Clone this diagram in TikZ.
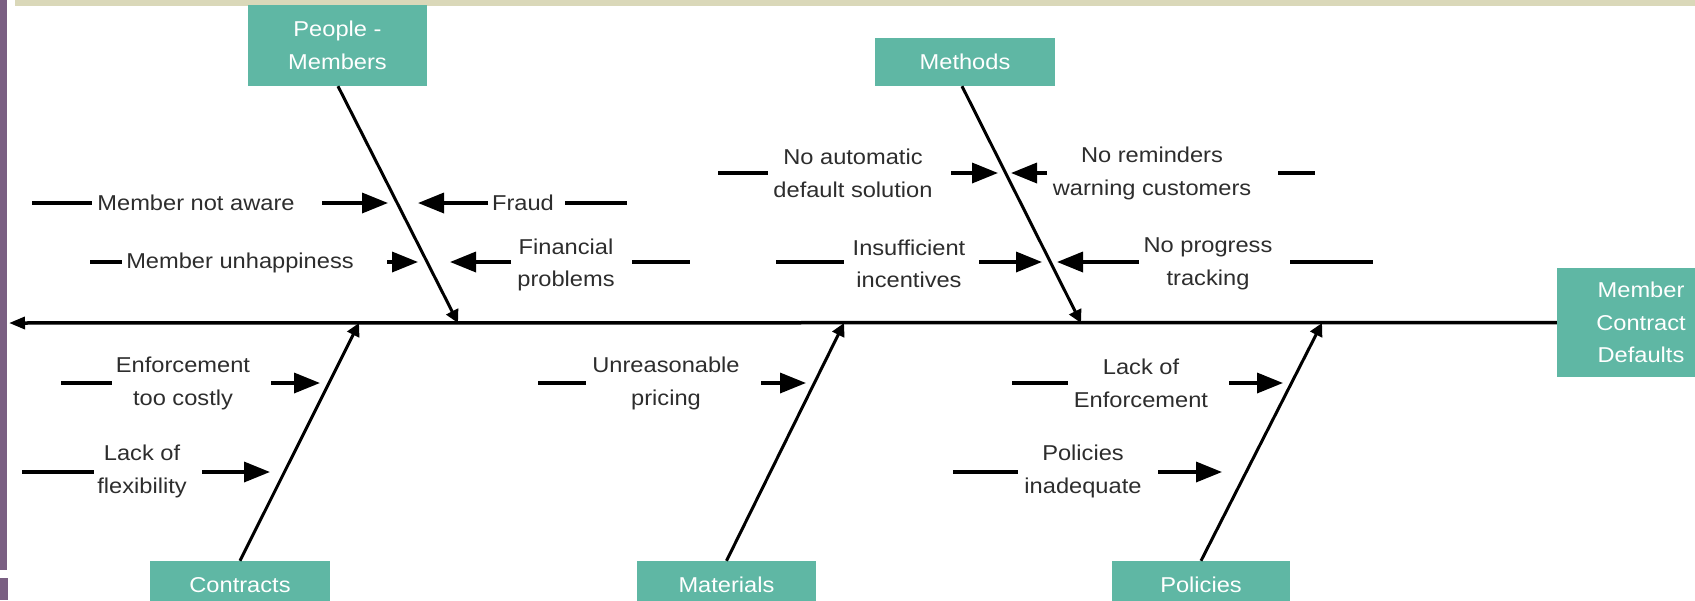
\documentclass[tikz,border=0pt]{standalone}
\usepackage{fontspec}
\setmainfont{Liberation Sans}[FakeStretch=1.1]
\usetikzlibrary{arrows.meta}
\definecolor{teal}{RGB}{95,183,164}
\definecolor{band}{RGB}{218,216,185}
\definecolor{strip}{RGB}{122,95,130}
\definecolor{txt}{RGB}{45,45,45}
\tikzset{
  cause/.style={fill=teal, text=white, inner sep=0pt, align=center,
    font=\fontsize{21.5}{32.5}\selectfont},
  lbl/.style={text=txt, inner sep=0pt, align=center,
    font=\fontsize{21.5}{32.5}\selectfont},
  bar/.style={line width=3.5pt, black},
  sub/.style={bar, -{Triangle[length=26pt,width=20pt]}},
  bone/.style={line width=3pt, black, -{Triangle[length=13pt,width=13pt]}},
  spine/.style={line width=3.5pt, black, -{Triangle[length=16pt,width=12pt]}}
}
\begin{document}
\begin{tikzpicture}[x=1pt,y=-1pt]
\useasboundingbox (0,0) rectangle (1695,600);
\clip (0,0) rectangle (1695,600);
\fill[white] (0,0) rectangle (1695,600);
% frame decorations
\fill[band] (15,0) rectangle (1695,6);
\fill[strip] (0,0) rectangle (7,570);
\fill[strip] (0,578) rectangle (8,600);

% category boxes
\node[cause, minimum width=179pt, minimum height=81pt] (people) at (337.5,45.5) {People -\\Members};
\node[cause, minimum width=180pt, minimum height=48pt] (methods) at (965,62) {Methods};
\node[cause, minimum width=168pt, minimum height=109pt] (effect) at (1641,322.5) {Member\\Contract\\Defaults};
\node[cause, minimum width=180pt, minimum height=48pt] (contracts) at (240,585) {Contracts};
\node[cause, minimum width=179pt, minimum height=48pt] (materials) at (726.5,585) {Materials};
\node[cause, minimum width=178pt, minimum height=48pt] (policies) at (1201,585) {Policies};

% spine
\coordinate (head) at (9,323);
\draw[spine] (effect.west) -- (head);

% bone tips on the spine
\coordinate (pT) at (458,323);
\coordinate (mT) at (1081,323);
\coordinate (cT) at (359,323);
\coordinate (maT) at (844,323);
\coordinate (poT) at (1322,323);
\draw[bone] ([xshift=0.5pt]people.south) -- (pT);
\draw[bone] ([xshift=-3pt]methods.south) -- (mT);
\draw[bone] (contracts.north) -- (cT);
\draw[bone] (materials.north) -- (maT);
\draw[bone] (policies.north) -- (poT);

% ---- People ----
\node[lbl] (mna) at (196,203) {Member not aware};
\coordinate (mna1) at (32,203); \coordinate (mna2) at (92,203);
\coordinate (mna3) at (322,203); \coordinate (mna4) at (388,203);
\draw[bar] (mna1) -- (mna2);
\draw[sub] (mna3) -- (mna4);

\node[lbl] (fraud) at (523,203) {Fraud};
\coordinate (fr1) at (488,203); \coordinate (fr2) at (418,203);
\coordinate (fr3) at (565,203); \coordinate (fr4) at (627,203);
\draw[sub] (fr1) -- (fr2);
\draw[bar] (fr3) -- (fr4);

\node[lbl] (mu) at (240,263) {Member unhappiness};
\coordinate (mu1) at (90,262); \coordinate (mu2) at (122,262);
\coordinate (mu3) at (387,262); \coordinate (mu4) at (418,262);
\draw[bar] (mu1) -- (mu2);
\draw[sub] (mu3) -- (mu4);

\node[lbl] (fp) at (566,265) {Financial\\problems};
\coordinate (fp1) at (511,262); \coordinate (fp2) at (450,262);
\coordinate (fp3) at (632,262); \coordinate (fp4) at (690,262);
\draw[sub] (fp1) -- (fp2);
\draw[bar] (fp3) -- (fp4);

% ---- Methods ----
\node[lbl] (na) at (853,173.5) {No automatic\\default solution};
\coordinate (na1) at (718,173); \coordinate (na2) at (768,173);
\coordinate (na3) at (951,173); \coordinate (na4) at (998,173);
\draw[bar] (na1) -- (na2);
\draw[sub] (na3) -- (na4);

\node[lbl] (nr) at (1152,173.5) {No reminders\\warning customers};
\coordinate (nr1) at (1047,173); \coordinate (nr2) at (1011,173);
\coordinate (nr3) at (1278,173); \coordinate (nr4) at (1315,173);
\draw[sub] (nr1) -- (nr2);
\draw[bar] (nr3) -- (nr4);

\node[lbl] (ii) at (909,264) {Insufficient\\incentives};
\coordinate (ii1) at (776,262); \coordinate (ii2) at (844,262);
\coordinate (ii3) at (979,262); \coordinate (ii4) at (1042,262);
\draw[bar] (ii1) -- (ii2);
\draw[sub] (ii3) -- (ii4);

\node[lbl] (np) at (1208,264) {No progress\\tracking};
\coordinate (np1) at (1139,262); \coordinate (np2) at (1057,262);
\coordinate (np3) at (1290,262); \coordinate (np4) at (1373,262);
\draw[sub] (np1) -- (np2);
\draw[bar] (np3) -- (np4);

% ---- Contracts ----
\node[lbl] (etc) at (183,383.5) {Enforcement\\too costly};
\coordinate (etc1) at (61,383); \coordinate (etc2) at (112,383);
\coordinate (etc3) at (271,383); \coordinate (etc4) at (320,383);
\draw[bar] (etc1) -- (etc2);
\draw[sub] (etc3) -- (etc4);

\node[lbl] (lf) at (142,471.5) {Lack of\\flexibility};
\coordinate (lf1) at (22,472); \coordinate (lf2) at (94,472);
\coordinate (lf3) at (202,472); \coordinate (lf4) at (270,472);
\draw[bar] (lf1) -- (lf2);
\draw[sub] (lf3) -- (lf4);

% ---- Materials ----
\node[lbl] (up) at (666,383.5) {Unreasonable\\pricing};
\coordinate (up1) at (538,383); \coordinate (up2) at (586,383);
\coordinate (up3) at (761,383); \coordinate (up4) at (806,383);
\draw[bar] (up1) -- (up2);
\draw[sub] (up3) -- (up4);

% ---- Policies ----
\node[lbl] (le) at (1141,383.5) {Lack of\\Enforcement};
\coordinate (le1) at (1012,383); \coordinate (le2) at (1068,383);
\coordinate (le3) at (1229,383); \coordinate (le4) at (1283,383);
\draw[bar] (le1) -- (le2);
\draw[sub] (le3) -- (le4);

\node[lbl] (pi) at (1083,471.5) {Policies\\inadequate};
\coordinate (pi1) at (953,472); \coordinate (pi2) at (1018,472);
\coordinate (pi3) at (1158,472); \coordinate (pi4) at (1222,472);
\draw[bar] (pi1) -- (pi2);
\draw[sub] (pi3) -- (pi4);
\end{tikzpicture}
\end{document}
